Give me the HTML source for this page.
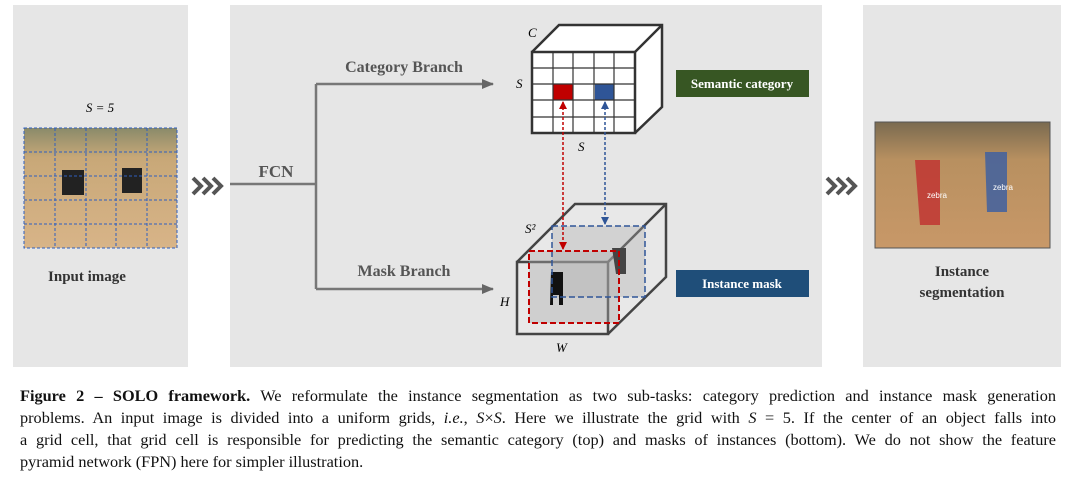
<!DOCTYPE html><html><head><style>
body{margin:0;background:#fff;width:1083px;height:478px;overflow:hidden;font-family:"Liberation Serif",serif}
.cap{position:absolute;left:20px;top:385px;width:1036px;font-size:16.3px;line-height:22px;color:#111}
.cap div{text-align:justify;text-align-last:justify;white-space:nowrap;overflow:visible}
.cap div.l{text-align-last:left}
</style></head><body>
<svg width="1083" height="380" style="position:absolute;left:0;top:0" font-family="Liberation Serif,serif">
<defs>
<linearGradient id="g1" x1="0" y1="0" x2="0" y2="1"><stop offset="0" stop-color="#8a8a6a"/><stop offset="0.25" stop-color="#c8a878"/><stop offset="1" stop-color="#d8b488"/></linearGradient>
<linearGradient id="g2" x1="0" y1="0" x2="0" y2="1"><stop offset="0" stop-color="#7a6a50"/><stop offset="0.3" stop-color="#b89060"/><stop offset="1" stop-color="#c89868"/></linearGradient>
<marker id="ar" markerUnits="userSpaceOnUse" markerWidth="12" markerHeight="12" refX="11" refY="6" orient="auto"><path d="M0,1 L12,6 L0,11 z" fill="#666"/></marker>
<marker id="rr" markerUnits="userSpaceOnUse" markerWidth="8" markerHeight="8" refX="7" refY="4" orient="auto-start-reverse"><path d="M0,0 L8,4 L0,8 z" fill="#c00000"/></marker>
<marker id="br" markerUnits="userSpaceOnUse" markerWidth="8" markerHeight="8" refX="7" refY="4" orient="auto-start-reverse"><path d="M0,0 L8,4 L0,8 z" fill="#2f5597"/></marker>
</defs>
<rect x="13" y="5" width="175" height="362" fill="#e6e6e6"/>
<rect x="230" y="5" width="592" height="362" fill="#e6e6e6"/>
<rect x="863" y="5" width="198" height="362" fill="#e6e6e6"/>
<text x="100" y="112" font-size="13" font-style="italic" text-anchor="middle">S = 5</text>
<rect x="24" y="128" width="153" height="120" fill="url(#g1)"/>
<g fill="#222"><rect x="62" y="170" width="22" height="25"/><rect x="122" y="168" width="20" height="25"/></g>
<g stroke="#2f5fbf" stroke-dasharray="3,2" fill="none" stroke-width="1">
<rect x="24" y="128" width="153" height="120"/>
<path d="M55,128V248M86,128V248M116,128V248M147,128V248M24,152H177M24,176H177M24,200H177M24,224H177"/></g>
<text x="87" y="281" font-size="15" font-weight="bold" text-anchor="middle" fill="#333">Input image</text>
<g fill="none" stroke="#555" stroke-width="4">
<path d="M193,178l8,8l-8,8M203,178l8,8l-8,8M213,178l8,8l-8,8"/>
<path d="M827,178l8,8l-8,8M837,178l8,8l-8,8M847,178l8,8l-8,8"/></g>
<text x="276" y="177" font-size="17" font-weight="bold" text-anchor="middle" fill="#555">FCN</text>
<g stroke="#777" stroke-width="2.5" fill="none"><path d="M230,184H316M316,84V289"/>
<path d="M316,84H493" marker-end="url(#ar)"/><path d="M316,289H493" marker-end="url(#ar)"/></g>
<text x="404" y="72" font-size="16" font-weight="bold" text-anchor="middle" fill="#555">Category Branch</text>
<text x="404" y="276" font-size="16" font-weight="bold" text-anchor="middle" fill="#555">Mask Branch</text>
<g stroke="#333" stroke-width="2.5" fill="#fff"><path d="M532,52L559,25H662V107L635,133"/><rect x="532" y="52" width="103" height="81"/><path d="M635,52L662,25" fill="none"/></g>
<rect x="553" y="84" width="20" height="16" fill="#c00000"/><rect x="595" y="84" width="19" height="16" fill="#2f5597"/>
<g stroke="#333" stroke-width="1.2"><path d="M553,52V133M573,52V133M594,52V133M614,52V133M532,68H635M532,84H635M532,100H635M532,117H635"/></g>
<g font-size="13" font-style="italic"><text x="528" y="37">C</text><text x="516" y="88">S</text><text x="578" y="151">S</text><text x="525" y="233">S²</text><text x="500" y="306">H</text><text x="556" y="352">W</text></g>
<g stroke="#444" stroke-width="2.5"><path d="M517,262L575,204H666V277L608,334" fill="#e8e8e8"/><path d="M608,262L666,204" fill="none"/><rect x="517" y="262" width="91" height="72" fill="#e8e8e8"/></g>
<rect x="552" y="226" width="93" height="71" fill="#aaa" opacity="0.35"/>
<rect x="529" y="251" width="90" height="72" fill="#aaa" opacity="0.4"/>
<path d="M551,272h12v33h-4v-10h-6v10h-3z" fill="#111"/><path d="M612,248h14v26h-10z" fill="#444"/>
<rect x="552" y="226" width="93" height="71" fill="none" stroke="#2f5597" stroke-width="1.5" stroke-dasharray="6,3"/>
<rect x="529" y="251" width="90" height="72" fill="none" stroke="#c00000" stroke-width="2" stroke-dasharray="6,3"/>
<path d="M563,102V249" stroke="#c00000" stroke-width="1.5" stroke-dasharray="3,2" marker-start="url(#rr)" marker-end="url(#rr)"/>
<path d="M605,102V224" stroke="#2f5597" stroke-width="1.5" stroke-dasharray="3,2" marker-start="url(#br)" marker-end="url(#br)"/>
<rect x="676" y="70" width="133" height="27" fill="#375623"/>
<text x="742" y="88" font-size="13" font-weight="bold" fill="#fff" text-anchor="middle">Semantic category</text>
<rect x="676" y="270" width="133" height="27" fill="#1f4e79"/>
<text x="742" y="288" font-size="13" font-weight="bold" fill="#fff" text-anchor="middle">Instance mask</text>
<rect x="875" y="122" width="175" height="126" fill="url(#g2)" stroke="#555"/>
<path d="M915,160h25v65h-20z" fill="#c03030" opacity="0.8"/><path d="M985,152h22v60h-20z" fill="#4060a0" opacity="0.85"/>
<text x="937" y="198" font-size="8" fill="#fff" font-family="Liberation Sans,sans-serif" text-anchor="middle">zebra</text>
<text x="1003" y="190" font-size="8" fill="#fff" font-family="Liberation Sans,sans-serif" text-anchor="middle">zebra</text>
<text x="962" y="276" font-size="15" font-weight="bold" text-anchor="middle" fill="#333">Instance</text>
<text x="962" y="297" font-size="15" font-weight="bold" text-anchor="middle" fill="#333">segmentation</text>
</svg>
<div class="cap">
<div><b>Figure 2 – SOLO framework.</b> We reformulate the instance segmentation as two sub-tasks: category prediction and instance mask generation</div>
<div>problems. An input image is divided into a uniform grids, <i>i.e.</i>, <i>S</i>×<i>S</i>. Here we illustrate the grid with <i>S</i> = 5. If the center of an object falls into</div>
<div>a grid cell, that grid cell is responsible for predicting the semantic category (top) and masks of instances (bottom). We do not show the feature</div>
<div class="l">pyramid network (FPN) here for simpler illustration.</div>
</div>
</body></html>
